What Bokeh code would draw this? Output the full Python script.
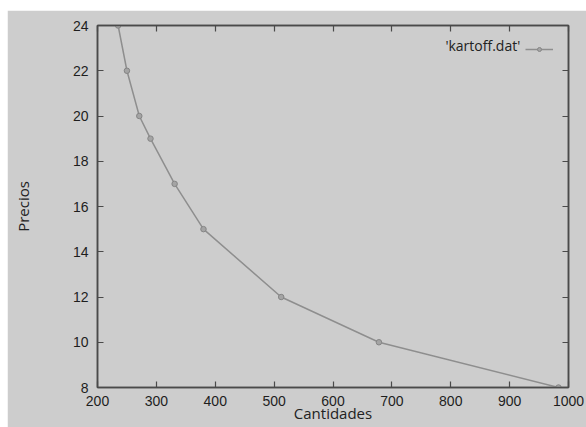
from bokeh.plotting import figure
from bokeh.models import (ColumnDataSource, LinearAxis, FixedTicker, Legend, LegendItem,
                          Label, Range1d)
from bokeh.embed import file_html
from bokeh.resources import INLINE

# data (kartoff.dat)
cantidades = [235, 250, 271, 290, 331, 380, 512, 678, 983]
precios = [24, 22, 20, 19, 17, 15, 12, 10, 8]
x_ticks = [200, 300, 400, 500, 600, 700, 800, 900, 1000]
y_ticks = [8, 10, 12, 14, 16, 18, 20, 22, 24]
series_name = "'kartoff.dat'"

BG = "#cdcdcd"
FRAME = "#4a4a4a"
LINE = "#8e8e8e"
TICKFONT = "Liberation Sans"
LABELFONT = "Open Sans"

src = ColumnDataSource(dict(x=cantidades, y=precios))

p = figure(width=579, height=417, output_backend="svg", toolbar_location=None,
           x_range=Range1d(200, 1000), y_range=Range1d(8, 24),
           min_border_left=90, min_border_right=18, min_border_top=15, min_border_bottom=40,
           x_axis_location=None, y_axis_location=None)
p.margin = (10, 0, 0, 7)
p.background_fill_color = BG
p.border_fill_color = BG
p.outline_line_color = FRAME
p.outline_line_width = 1.5
p.xgrid.visible = False
p.ygrid.visible = False

def style_axis(ax, ticks, labels=True):
    ax.ticker = FixedTicker(ticks=ticks)
    ax.major_tick_in = 6
    ax.major_tick_out = 0
    ax.minor_tick_in = 0
    ax.minor_tick_out = 0
    ax.major_tick_line_color = FRAME
    ax.major_tick_line_width = 1.2
    ax.axis_line_color = FRAME
    ax.axis_line_width = 1.5
    ax.major_label_text_font = TICKFONT
    ax.major_label_text_font_size = "14px"
    ax.major_label_text_color = "#1e1e1e"
    ax.axis_label_text_font = LABELFONT
    ax.axis_label_text_font_size = "15px"
    ax.axis_label_text_font_style = "normal"
    ax.axis_label_text_color = "#222222"
    if not labels:
        ax.major_label_overrides = {t: "" for t in ticks}
        ax.major_label_standoff = 0

bottom = LinearAxis(axis_label="Cantidades")
style_axis(bottom, x_ticks)
bottom.major_label_standoff = 8
bottom.axis_label_standoff = -6
p.add_layout(bottom, "below")

left = LinearAxis(axis_label="Precios")
style_axis(left, y_ticks)
left.major_label_standoff = 9
left.axis_label_standoff = 37
p.add_layout(left, "left")

top = LinearAxis()
style_axis(top, x_ticks, labels=False)
p.add_layout(top, "above")

right = LinearAxis()
style_axis(right, y_ticks, labels=False)
p.add_layout(right, "right")

r_line = p.line("x", "y", source=src, line_color=LINE, line_width=1.5)
r_mark = p.scatter("x", "y", source=src, size=5.5, fill_color="#a4a4a4",
                   line_color="#858585", line_width=1)

legend = Legend(items=[LegendItem(label=" ", renderers=[r_line, r_mark])],
                location=(428, 333), padding=0, margin=0, spacing=0,
                glyph_width=28, glyph_height=10, label_width=0, label_height=10,
                label_standoff=0, border_line_color=None, background_fill_alpha=0,
                label_text_font_size="10px")
p.add_layout(legend, "center")

lab = Label(x=918, y=23.12, text=series_name, text_align="right", text_baseline="middle",
            text_font=LABELFONT, text_font_size="14px", text_color="#222222")
p.add_layout(lab)

open("out.html", "w").write(file_html(p, INLINE))
